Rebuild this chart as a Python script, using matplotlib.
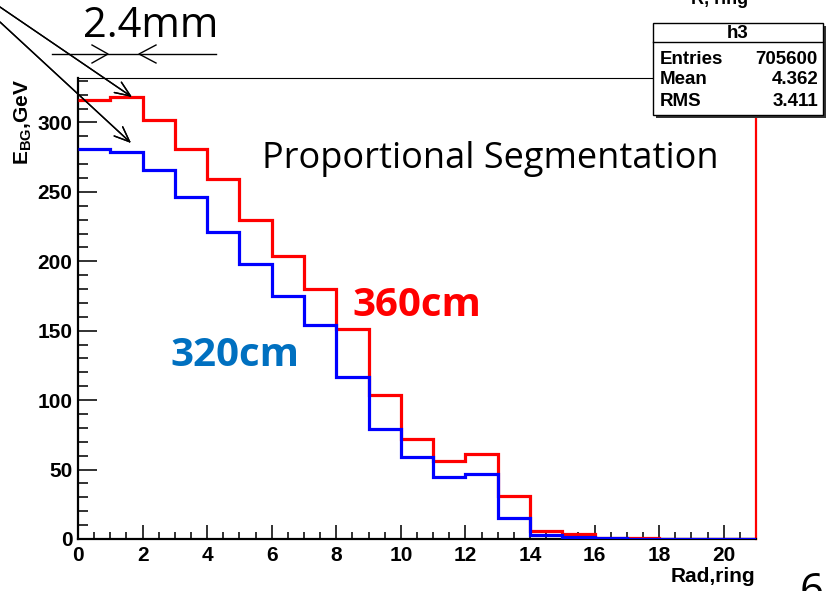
import numpy as np
import matplotlib
matplotlib.use("Agg")
import matplotlib.pyplot as plt
from matplotlib.patches import Rectangle
from matplotlib.lines import Line2D
from matplotlib.ticker import MultipleLocator

# data: energy per ring, ring bins 0..21
bin_edges = np.arange(0, 22)
e_360 = [316, 318, 302, 281, 259, 230, 204, 180, 151, 104, 72, 56, 61, 31, 6, 3.5,
         0.8, 0.5, 0.3, 0.2, 0.1]
e_320 = [281, 279, 266, 246, 221, 198, 175, 154, 117, 79, 59, 45, 47, 15, 3, 1.3,
         0.5, 0.3, 0.2, 0.1, 0.1]
x_ticks = [0, 2, 4, 6, 8, 10, 12, 14, 16, 18, 20]
y_ticks = [0, 50, 100, 150, 200, 250, 300]
stats_rows = [("Entries", "705600"), ("Mean", "4.362"), ("RMS", "3.411")]

W, H = 827, 591
plt.rcParams['font.family'] = ['Liberation Sans', 'DejaVu Sans']
plt.rcParams['mathtext.fontset'] = 'custom'
plt.rcParams['mathtext.bf'] = 'Liberation Sans:bold'
plt.rcParams['mathtext.rm'] = 'Liberation Sans:bold'

fig = plt.figure(figsize=(W / 100, H / 100), dpi=100)

def px(x, y):
    # pixel coords (from top-left) -> figure fraction
    return (x / W, 1 - y / H)

ax = fig.add_axes([78 / W, 1 - 539 / H, (756 - 78) / W, (539 - 78) / H])
ax.stairs(e_360, bin_edges, baseline=None, color='#ff0000', lw=2.3, zorder=3)
ax.stairs(e_320, bin_edges, baseline=None, color='#0000ff', lw=2.3, zorder=4)
ax.set_xlim(0, 21)
ax.set_ylim(0, 332)

ax.set_xticks(x_ticks)
ax.set_yticks(y_ticks)
ax.xaxis.set_minor_locator(MultipleLocator(0.5))
ax.yaxis.set_minor_locator(MultipleLocator(10))
ax.tick_params(axis='both', which='both', direction='in', color='#222222',
               labelsize=15)
ax.tick_params(axis='y', which='major', length=14, width=1.3, pad=4)
ax.tick_params(axis='y', which='minor', length=7, width=1.3)
ax.tick_params(axis='x', which='major', length=10, width=1.3, pad=5)
ax.tick_params(axis='x', which='minor', length=5, width=1.3)
for lbl in ax.get_xticklabels() + ax.get_yticklabels():
    lbl.set_fontweight('bold')

ax.spines['left'].set_linewidth(1.6)
ax.spines['bottom'].set_linewidth(1.6)
ax.spines['top'].set_linewidth(0.8)
ax.spines['right'].set_color('#ff0000')
ax.spines['right'].set_linewidth(1.6)

# axis titles (ROOT style)
fig.text(*px(755, 577), "Rad,ring", ha='right', va='center', fontsize=15,
         fontweight='bold')
fig.text(*px(23, 122), r"$\mathbf{E_{BG}}$,GeV", rotation=90, ha='center',
         va='center', fontsize=15, fontweight='bold')
fig.text(*px(720, 4), "R, ring", ha='center', va='baseline', fontsize=13,
         fontweight='bold')

# stats box
bx0, by0, bx1, by1 = 653, 23, 823, 115
fig.patches.append(Rectangle(px(bx0 + 3, by1 + 3), (bx1 - bx0) / W, (by1 - by0) / H,
                             transform=fig.transFigure, facecolor='#333333',
                             edgecolor='none', zorder=5))
fig.patches.append(Rectangle(px(bx0, by1), (bx1 - bx0) / W, (by1 - by0) / H,
                             transform=fig.transFigure, facecolor='white',
                             edgecolor='black', lw=1.0, zorder=6))
fig.lines.append(Line2D([bx0 / W, bx1 / W], [1 - 42 / H, 1 - 42 / H],
                        transform=fig.transFigure, color='black', lw=1.0, zorder=7))
fig.text(*px(738, 33), "h3", ha='center', va='center', fontsize=13.5,
         fontweight='bold', zorder=8)
for i, (name, val) in enumerate(stats_rows):
    y = 59 + i * 21
    fig.text(*px(660, y), name, ha='left', va='center', fontsize=13.5,
             fontweight='bold', zorder=8)
    fig.text(*px(818, y), val, ha='right', va='center', fontsize=13.5,
             fontweight='bold', zorder=8)

# slide annotations
fig.text(*px(83, 37), "2.4mm", ha='left', va='baseline', fontsize=30,
         family=['Open Sans', 'DejaVu Sans'])
fig.lines.append(Line2D([52 / W, 216 / W], [1 - 54 / H, 1 - 54 / H],
                        transform=fig.transFigure, color='black', lw=1.0))
for tip, back in [((108, 54), 92), ((139, 54), 156)]:
    fig.lines.append(Line2D([back / W, tip[0] / W, back / W],
                            [1 - 45 / H, 1 - tip[1] / H, 1 - 63 / H],
                            transform=fig.transFigure, color='black', lw=1.0))
for start, end in [((0, 7), (132, 97)), ((0, 22), (131, 143))]:
    fig.add_artist(plt.annotate("", xy=px(*end), xytext=px(*start),
                                xycoords='figure fraction',
                                textcoords='figure fraction',
                                arrowprops=dict(arrowstyle='->,head_length=1.1,head_width=0.45',
                                                color='black', lw=1.0,
                                                shrinkA=0, shrinkB=0)))

fig.text(*px(262, 168), "Proportional Segmentation", ha='left', va='baseline',
         fontsize=26, family=['Open Sans', 'DejaVu Sans'])
fig.text(*px(352, 316), "360cm", ha='left', va='baseline', fontsize=29,
         fontweight='bold', color='#ff0000', family=['Open Sans', 'DejaVu Sans'])
fig.text(*px(170, 366), "320cm", ha='left', va='baseline', fontsize=29,
         fontweight='bold', color='#0070c0', family=['Open Sans', 'DejaVu Sans'])
fig.text(*px(800, 571), "6", ha='left', va='top', fontsize=30,
         family=['Open Sans', 'DejaVu Sans'])

fig.savefig("out.png", dpi=100)
